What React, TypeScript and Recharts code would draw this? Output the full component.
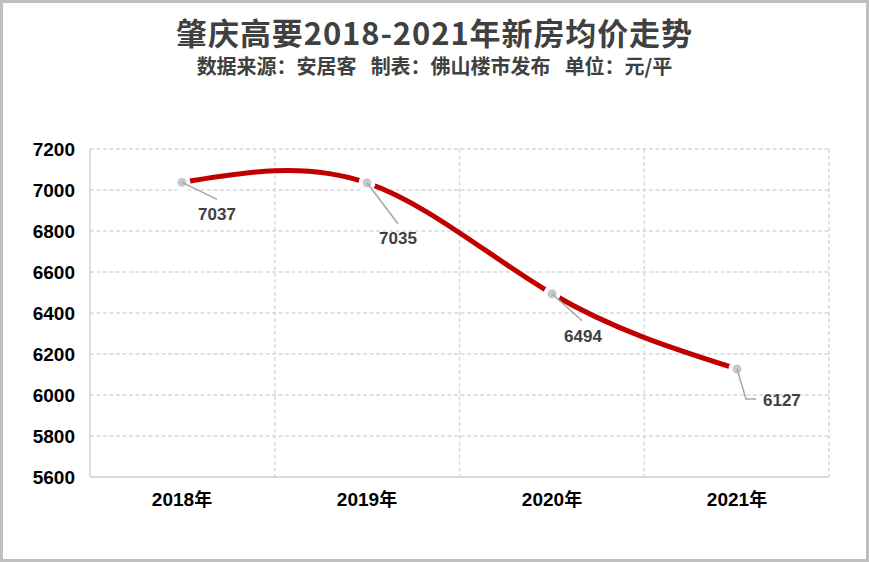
import React from "react";
import { LineChart, Line, XAxis, YAxis, CartesianGrid, LabelList } from "recharts";

const years = ["2018年", "2019年", "2020年", "2021年"];
const prices = [7037, 7035, 6494, 6127];
const yTicks = [5600, 5800, 6000, 6200, 6400, 6600, 6800, 7000, 7200];

const data = years.map((year, i) => ({ year, price: prices[i] }));

// where each data label sits relative to its point (leader end, text anchor)
const labelPlacement = [
  { lx: 35, ly: 17, tx: 35, ty: 32, anchor: "middle" },
  { lx: 31, ly: 41, tx: 31, ty: 56, anchor: "middle" },
  { lx: 30, ly: 27, tx: 31, ty: 43, anchor: "middle" },
  { lx: 9, ly: 30, tx: 26, ty: 32, anchor: "start", elbow: 19 },
];

const GRID = "#D9D9D9";
const NUM_FONT = "'Liberation Sans', Arial, sans-serif";
const CJK_FONT = "'Noto Sans CJK SC', 'Noto Sans', sans-serif";

const Marker = (props: any) => {
  const { cx, cy } = props;
  if (cx == null || cy == null) return null;
  return (
    <g>
      <circle cx={cx} cy={cy} r={8.5} fill="#fff" />
      <circle cx={cx} cy={cy} r={4.5} fill="#C8C8C8" />
    </g>
  );
};

const PriceLabel = (props: any) => {
  const { x, y, value, index } = props;
  const p = labelPlacement[index];
  if (!p) return null;
  const ex = x + p.lx;
  const ey = y + p.ly;
  return (
    <g>
      <polyline
        points={`${x},${y} ${ex},${ey}${p.elbow ? ` ${x + p.elbow},${ey}` : ""}`}
        fill="none"
        stroke="#A6A6A6"
        strokeWidth={1.5}
      />
      <text
        x={x + p.tx}
        y={y + p.ty}
        textAnchor={p.anchor}
        dominantBaseline="central"
        fontFamily={NUM_FONT}
        fontWeight="bold"
        fontSize={17}
        fill="#404040"
      >
        {value}
      </text>
    </g>
  );
};

const XTick = (props: any) => {
  const { x, y, payload } = props;
  const m = String(payload.value).match(/^(\d+)(.*)$/);
  return (
    <text x={x} y={y} dy="0.71em" textAnchor="middle" fontWeight="bold" fontSize={19} fill="#000">
      <tspan fontFamily={NUM_FONT}>{m ? m[1] : payload.value}</tspan>
      <tspan fontFamily={CJK_FONT} fontSize={18}>{m ? m[2] : ""}</tspan>
    </text>
  );
};

const gap = <span style={{ display: "inline-block", width: 14 }} />;

export default function App() {
  return (
    <div
      style={{
        position: "absolute", left: 0, top: 0, width: 869, height: 562,
        boxSizing: "border-box", border: "3px solid #BFBFBF", background: "#fff",
      }}
    >
      <div
        style={{
          position: "absolute", left: -3, top: 14, width: 869, textAlign: "center",
          fontFamily: CJK_FONT, fontWeight: "bold", fontSize: 31, lineHeight: "30px",
          letterSpacing: 0.9, color: "#404040", whiteSpace: "pre",
        }}
      >
        肇庆高要2018-2021年新房均价走势
      </div>
      <div
        style={{
          position: "absolute", left: -3, top: 55, width: 869, textAlign: "center",
          fontFamily: CJK_FONT, fontWeight: "bold", fontSize: 20, lineHeight: "16px",
          color: "#404040", whiteSpace: "pre",
        }}
      >
        数据来源：安居客{gap}制表：佛山楼市发布{gap}单位：元/平
      </div>
      <div style={{ position: "absolute", left: -3, top: -3 }}>
        <LineChart width={869} height={562} data={data} margin={{ top: 149, right: 40, bottom: 55, left: 0 }}>
          <CartesianGrid
            stroke={GRID}
            strokeWidth={1.5}
            strokeDasharray="4 2.5"
            verticalCoordinatesGenerator={({ offset }: any) =>
              years.map((_, i) => offset.left + (offset.width / years.length) * i).concat(offset.left + offset.width)
            }
          />
          <XAxis
            dataKey="year"
            height={30}
            padding={{ left: 92, right: 92 }}
            tick={<XTick />}
            tickLine={false}
            tickSize={0}
            tickMargin={16}
            axisLine={{ stroke: GRID, strokeWidth: 2 }}
          />
          <YAxis
            width={90}
            domain={[5600, 7200]}
            ticks={yTicks}
            tickLine={false}
            tickSize={0}
            tickMargin={15}
            axisLine={{ stroke: GRID, strokeWidth: 1.5 }}
            tick={{ fill: "#000", fontSize: 19, fontWeight: "bold", fontFamily: NUM_FONT }}
          />
          <Line
            type="natural"
            dataKey="price"
            stroke="#C00000"
            strokeWidth={5}
            dot={<Marker />}
            activeDot={false}
            isAnimationActive={false}
          >
            <LabelList dataKey="price" content={<PriceLabel />} />
          </Line>
        </LineChart>
      </div>
    </div>
  );
}
